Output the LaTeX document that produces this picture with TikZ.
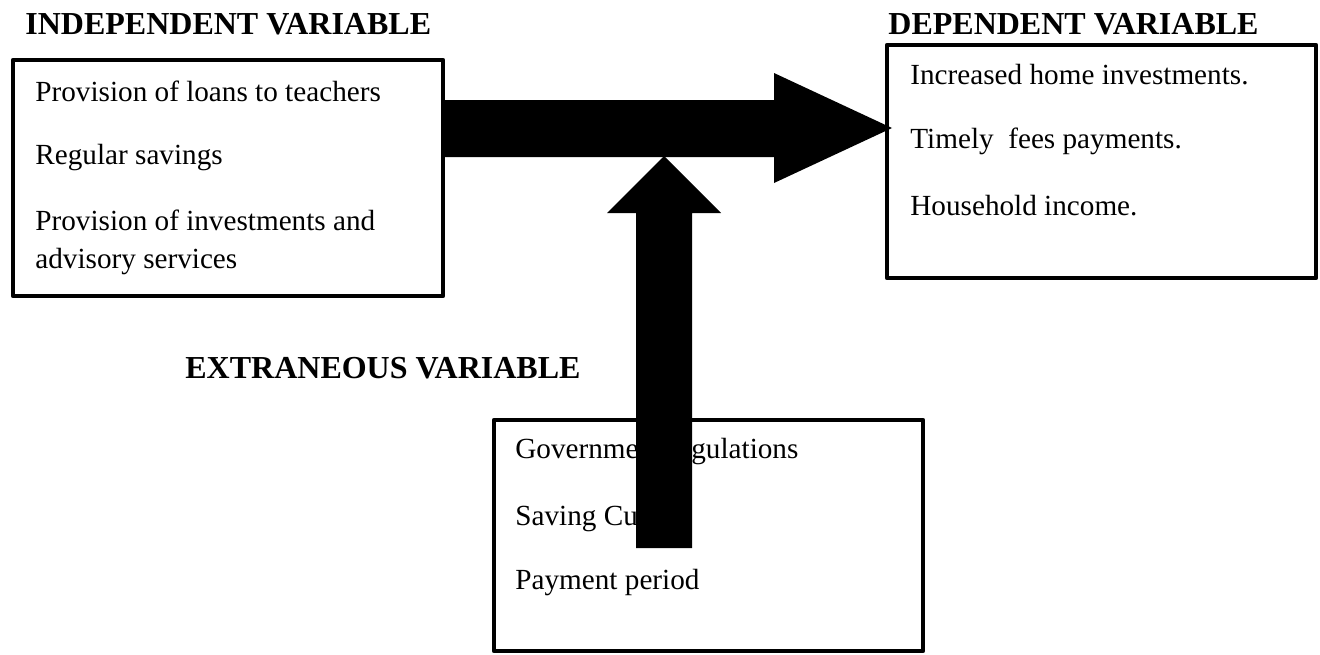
\documentclass[tikz,border=0pt]{standalone}
\usepackage{fontspec}
\setmainfont{Liberation Serif}
\begin{document}
\begin{tikzpicture}[x=0.5pt,y=-0.5pt,
  box/.style={draw, line width=2.25pt, line join=round, inner sep=0pt, outer sep=0pt},
  txt/.style={anchor=base west, inner sep=0pt, font=\fontsize{14.6pt}{17pt}\selectfont},
  head/.style={anchor=base west, inner sep=0pt, font=\fontsize{16pt}{19pt}\selectfont\bfseries},
  blockarrow/.style={fill=black, draw=none}]
\useasboundingbox (0,0) rectangle (1320,654);

% headings
\node[head] (hind) at (25,34) {INDEPENDENT VARIABLE};
\node[head] (hdep) at (888,34) {DEPENDENT VARIABLE};
\node[head] (hext) at (185,378) {EXTRANEOUS VARIABLE};

% boxes
\node[box, minimum width=215pt, minimum height=118pt] (ind) at (228,178) {};
\node[box, minimum width=214.5pt, minimum height=116.5pt] (dep) at (1101.5,161.5) {};
\node[box, minimum width=214.5pt, minimum height=115.5pt] (ext) at (708.5,535.5) {};

% texts in independent box
\node[txt] (i1) at (35,101) {Provision of loans to teachers};
\node[txt] (i2) at (35,164) {Regular savings};
\node[txt] (i3) at (35,230) {Provision of investments and};
\node[txt] (i4) at (35,268) {advisory services};

% texts in dependent box
\node[txt] (d1) at (910,84) {Increased home investments.};
\node[txt] (d2) at (910,148) {Timely\ \ fees payments.};
\node[txt] (d3) at (910,215) {Household income.};

% texts in extraneous box
\node[txt] (e1) at (515,458) {Government regulations};
\node[txt] (e2) at (515,525) {Saving Culture};
\node[txt] (e3) at (515,589) {Payment period};

% horizontal block arrow
\fill[blockarrow] (443,100) -- (774,100) -- (774,73) -- (892,128) -- (774,183) -- (774,157) -- (443,157) -- cycle;

% vertical block arrow
\fill[blockarrow] (636,548) -- (692,548) -- (692,213) -- (721,213) -- (664,156) -- (607,213) -- (636,213) -- cycle;
\end{tikzpicture}
\end{document}
